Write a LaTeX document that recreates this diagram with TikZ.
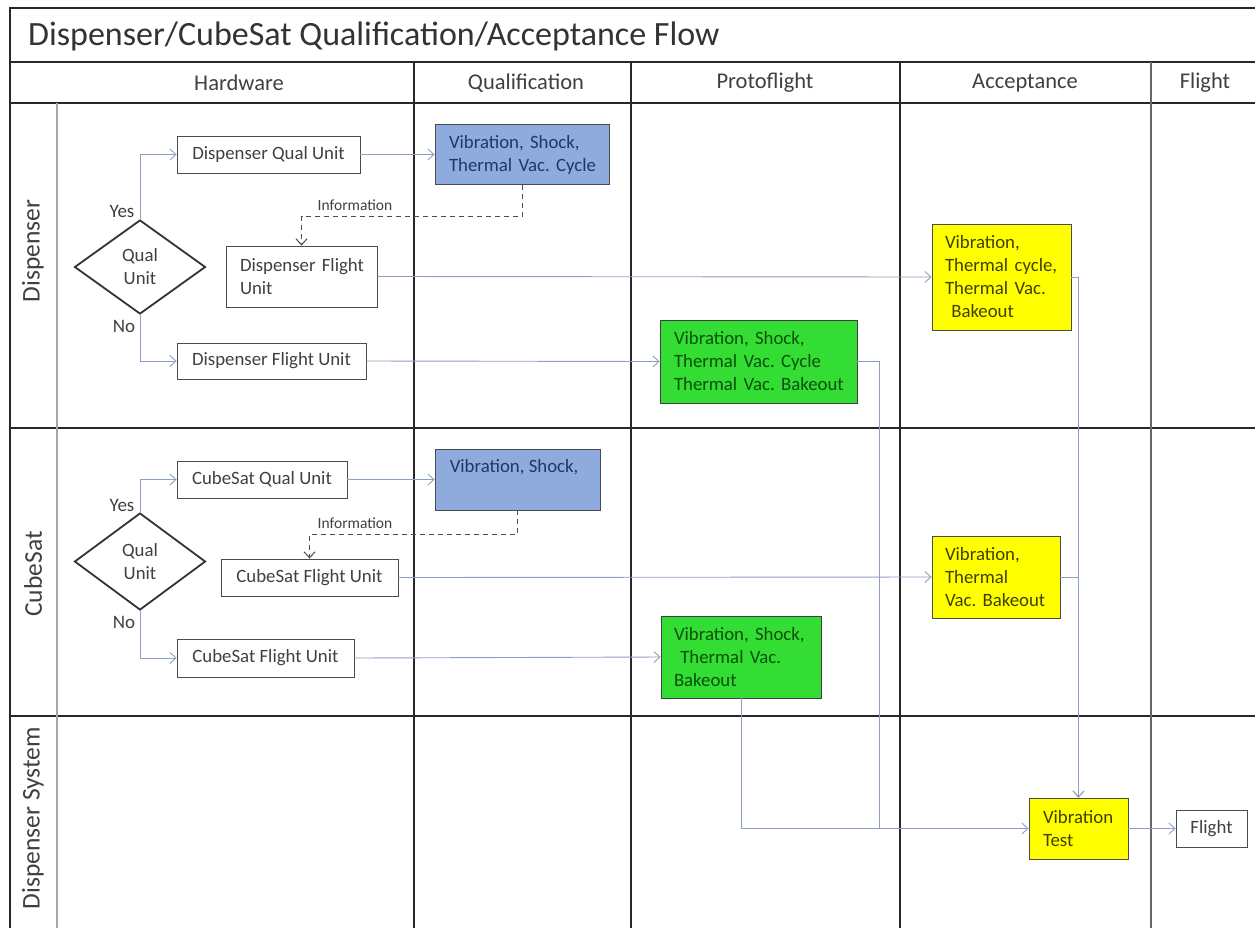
\documentclass[tikz,border=0pt]{standalone}
\usepackage{fontspec}
\setmainfont{Carlito}
\frenchspacing
\hyphenpenalty=10000
\exhyphenpenalty=10000
\hbadness=10000
\hfuzz=30pt
\usetikzlibrary{arrows.meta,shapes.geometric}
\definecolor{conncol}{RGB}{140,160,195}
\definecolor{gridcol}{RGB}{40,40,40}
\definecolor{txtcol}{RGB}{64,64,64}
\definecolor{bluefill}{RGB}{143,170,220}
\definecolor{bluetxt}{RGB}{31,56,100}
\definecolor{greenfill}{RGB}{51,221,51}
\definecolor{greentxt}{RGB}{10,80,10}
\definecolor{yellowfill}{RGB}{255,255,0}
\definecolor{yellowtxt}{RGB}{64,64,0}
\tikzset{
  boxfont/.style={font=\fontsize{18.8}{23}\selectfont},
  grid/.style={draw=gridcol, line width=1.8pt},
  lanediv/.style={draw=gray!70, line width=1.5pt},
  hwbox/.style={draw=gray!60!black, fill=white, line width=0.9pt, text=txtcol, boxfont, inner sep=0pt},
  blubox/.style={draw=gray!60!black, fill=bluefill, line width=0.9pt, text=bluetxt, boxfont, inner sep=0pt},
  grnbox/.style={draw=gray!50!black, fill=greenfill, line width=0.9pt, text=greentxt, boxfont, inner sep=0pt},
  yelbox/.style={draw=gray!60!black, fill=yellowfill, line width=0.9pt, text=yellowtxt, boxfont, inner sep=0pt},
  decide/.style={diamond, draw=gray!40!black, fill=white, line width=1.8pt, text=txtcol, boxfont, inner sep=0pt, align=center},
  conn/.style={draw=conncol, line width=0.9pt, -{Straight Barb[length=6pt,width=11pt]}},
  plainconn/.style={draw=conncol, line width=0.9pt},
  infoconn/.style={draw=gray!60!black, line width=1pt, dashed, dash pattern=on 5pt off 4pt, -{Straight Barb[length=6pt,width=11pt]}},
  hdr/.style={text=txtcol, font=\fontsize{22.5}{26}\selectfont},
  lanelbl/.style={text=txtcol, font=\fontsize{25.5}{29}\selectfont, rotate=90},
  small/.style={text=txtcol, font=\fontsize{15.5}{18}\selectfont},
  yn/.style={text=txtcol, font=\fontsize{19}{22}\selectfont},
}
\begin{document}
\begin{tikzpicture}[x=1pt,y=-1pt]
\useasboundingbox (0,0) rectangle (1255,927);
\fill[white] (0,0) rectangle (1255,927);
% frame and grid
\draw[grid] (1256,8) -- (10,8) -- (10,928);
\draw[grid] (10,62) -- (1256,62);
\draw[grid] (10,103) -- (1256,103);
\draw[grid] (10,428) -- (1256,428);
\draw[grid] (10,716) -- (1256,716);
\draw[lanediv] (57,103) -- (57,928);
\draw[grid] (414,62) -- (414,928);
\draw[grid] (631,62) -- (631,928);
\draw[grid] (900,62) -- (900,928);
\draw[grid, draw=gray!80!black, line width=1.4pt] (1151,62) -- (1151,928);
% title and headers
\node[anchor=west, text=black!80, font=\fontsize{34}{38}\selectfont, inner sep=0pt] (title) at (28,36) {Dispenser/CubeSat Qualification/Acceptance Flow};
\node[hdr] (hHW) at (239,83) {Hardware};
\node[hdr] (hQ) at (526,83) {Qualification};
\node[hdr] (hP) at (765,83) {Protoflight};
\node[hdr] (hA) at (1025,83) {Acceptance};
\node[hdr] (hF) at (1205,83) {Flight};
\node[lanelbl] (lD) at (33,251) {Dispenser};
\node[lanelbl] (lC) at (33,574) {CubeSat};
\node[lanelbl] (lS) at (33,818) {Dispenser System};
% dispenser lane
\node[decide, minimum width=131pt, minimum height=94pt] (dq) at (140,267) {Qual\\Unit};
\node[yn] (dyes) at (122,211) {Yes};
\node[yn] (dno) at (124,326) {No};
\node[hwbox, minimum width=183pt, minimum height=37pt] (dqual) at (268.5,154.5) {Dispenser Qual Unit};
\node[hwbox, minimum width=151pt, minimum height=61pt, text width=123pt, align=left] (dflt1) at (301.5,276.5) {Dispenser~Flight\\Unit};
\node[hwbox, minimum width=189pt, minimum height=36pt] (dflt2) at (271.5,361) {Dispenser Flight Unit};
\node[blubox, minimum width=174pt, minimum height=60pt, text width=146pt, align=left] (blue1) at (522,154.5) {Vibration,~Shock,\\Thermal~Vac.~Cycle};
\node[grnbox, minimum width=197pt, minimum height=83pt, text width=169pt, align=left] (green1) at (758.5,361.5) {Vibration,~Shock,\\Thermal~Vac.~Cycle\\Thermal~Vac.~Bakeout};
\node[yelbox, minimum width=139pt, minimum height=106pt, text width=113pt, align=left] (yel1) at (1001.5,277) {Vibration,\\Thermal~cycle,\\Thermal~Vac.\\\ Bakeout};
\node[small] (dinfo) at (355,205) {Information};
% cubesat lane
\node[decide, minimum width=131pt, minimum height=97pt] (cq) at (140,561.5) {Qual\\Unit};
\node[yn] (cyes) at (122,505) {Yes};
\node[yn] (cno) at (124,622) {No};
\node[hwbox, minimum width=170pt, minimum height=37pt] (cqual) at (262,479.5) {CubeSat Qual Unit};
\node[hwbox, minimum width=177pt, minimum height=37pt] (cflt1) at (309.5,577.5) {CubeSat Flight Unit};
\node[hwbox, minimum width=177pt, minimum height=38pt] (cflt2) at (265.5,658) {CubeSat Flight Unit};
\node[blubox, minimum width=165pt, minimum height=61pt] (blue2) at (517.5,479.5) {};
\node[anchor=west, text=bluetxt, boxfont, inner sep=0pt] (blue2t) at ([xshift=15pt,yshift=-19pt]blue2.north west) {Vibration, Shock,};
\node[grnbox, minimum width=160pt, minimum height=82pt, text width=134pt, align=left] (green2) at (741,657) {Vibration,~Shock,\\\ Thermal~Vac.\\Bakeout};
\node[yelbox, minimum width=128pt, minimum height=82pt, text width=102pt, align=left] (yel2) at (996,577) {Vibration,\\Thermal\\Vac.~Bakeout};
\node[small] (cinfo) at (355,523) {Information};
% system lane
\node[yelbox, minimum width=99pt, minimum height=61pt, text width=71pt, align=left] (vt) at (1078.5,828.5) {Vibration\\Test};
\node[hwbox, minimum width=71pt, minimum height=37pt] (flight) at (1211.5,828.5) {Flight};
\coordinate (j1) at (879,828);
% connectors dispenser
\draw[conn] (dq.north) |- (dqual.west);
\draw[conn] (dq.south) |- (dflt2.west);
\draw[conn] (dqual.east) -- (blue1.west);
\draw[infoconn] (blue1.south) -- ++(0,32) -| (dflt1.north);
\draw[conn] (dflt1.east) -- (yel1.west);
\draw[conn] (dflt2.east) -- (green1.west);
\draw[plainconn] (green1.east) -| (j1);
\draw[conn] (yel1.east) -| (vt.north);
% connectors cubesat
\draw[conn] (cq.north) |- (cqual.west);
\draw[conn] (cq.south) |- (cflt2.west);
\draw[conn] (cqual.east) -- (blue2.west);
\draw[infoconn] (blue2.south) -- ++(0,24) -| (cflt1.north);
\draw[conn] (cflt1.east) -- (yel2.west);
\draw[conn] (cflt2.east) -- (green2.west);
\draw[conn] (green2.south) |- (vt.west);
\draw[conn] (yel2.east) -| (vt.north);
\draw[conn] (vt.east) -- (flight.west);
\end{tikzpicture}
\end{document}
